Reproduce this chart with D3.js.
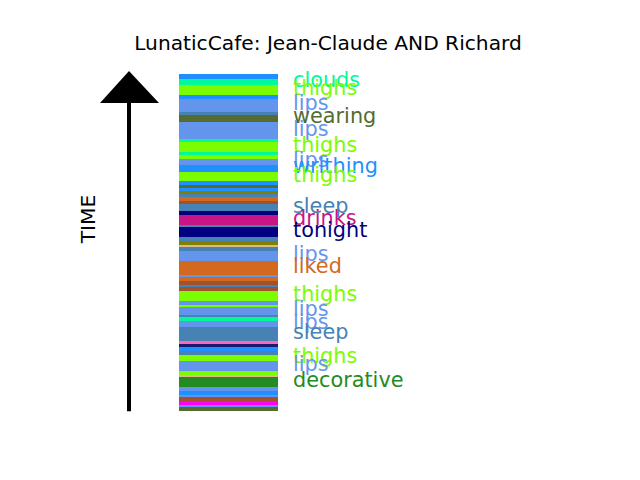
<!DOCTYPE html>
<html>
<head>
<meta charset="utf-8">
<script src="https://cdn.jsdelivr.net/npm/d3@7"></script>
<style>
  html, body { margin: 0; padding: 0; background: #fff; }
  svg { display: block; font-family: "DejaVu Sans", sans-serif; }
</style>
</head>
<body>
<svg id="chart" width="640" height="480"></svg>
<script>
// Title
const title = "LunaticCafe: Jean-Claude AND Richard";
const axisLabel = "TIME";

// Word occurrences in chronological order (earliest first = bottom of bar)
const words = [
  "wearing", "lips", "w_magenta", "w_sienna", "lips", "writhing", "lips", "decorative",
  "w_burlywood", "thighs", "lips", "thighs", "sleep", "writhing", "w_midnight", "w_hotpink",
  "sleep", "lips", "clouds", "sleep", "lips", "thighs", "lips", "thighs",
  "w_sienna", "sleep", "w_sienna", "liked", "lips", "liked", "lips", "sleep",
  "w_burlywood", "w_olive", "sleep", "tonight", "sleep", "drinks", "tonight", "sleep",
  "w_sienna", "liked", "sleep", "w_olive", "writhing", "wearing", "writhing", "thighs",
  "writhing", "lips", "thighs", "clouds", "thighs", "clouds", "lips", "wearing",
  "sleep", "lips", "writhing", "thighs", "clouds", "writhing"
];
// Duration of each occurrence (time units)
const durations = [
  5, 4, 6, 5, 4, 6, 5, 15,
  4, 6, 15, 9, 5, 6, 5, 4,
  21, 9, 6, 4, 11, 4, 5, 15,
  6, 4, 5, 6, 4, 20, 15, 6,
  4, 5, 6, 15, 4, 15, 5, 11,
  4, 6, 5, 4, 5, 5, 5, 14,
  11, 9, 6, 4, 15, 4, 26, 11,
  4, 20, 6, 15, 9, 7
];
// Colour of each word
const colorWords = ["lips", "thighs", "clouds", "writhing", "wearing", "sleep", "liked", "drinks",
                    "tonight", "decorative", "w_olive", "w_sienna", "w_burlywood", "w_hotpink",
                    "w_midnight", "w_magenta"];
const colorValues = ["cornflowerblue", "lawngreen", "mediumspringgreen", "dodgerblue", "darkolivegreen",
                     "steelblue", "chocolate", "mediumvioletred", "navy", "forestgreen", "olive",
                     "sienna", "burlywood", "hotpink", "midnightblue", "magenta"];
// Occurrences at least this long get a label
const labelThreshold = 8;

const color = d3.scaleOrdinal().domain(colorWords).range(colorValues);

// Build stripes
let acc = 0;
const stripes = words.map((w, i) => {
  const s = { word: w, start: acc, end: acc + durations[i], dur: durations[i] };
  acc += durations[i];
  return s;
});
const total = acc;

const svg = d3.select("#chart");

const y = d3.scaleLinear().domain([0, total]).range([410.67, 74]);
const x = d3.scaleLinear().domain([0, 1]).range([179, 278]);

// Title
svg.append("text")
  .attr("x", 328).attr("y", 50)
  .attr("text-anchor", "middle")
  .attr("font-size", 20.2)
  .attr("fill", "#000")
  .text(title);

// Time arrow
svg.append("line")
  .attr("x1", 129).attr("x2", 129)
  .attr("y1", y(0) + 0.5).attr("y2", 100)
  .attr("stroke", "#000").attr("stroke-width", 4);
svg.append("path")
  .attr("d", "M129,71 L100,103 L159,103 Z")
  .attr("fill", "#000");

svg.append("text")
  .attr("transform", "translate(88,219) rotate(-90)")
  .attr("text-anchor", "middle")
  .attr("dy", 7.3)
  .attr("font-size", 20.2)
  .attr("fill", "#000")
  .text(axisLabel);

// Stripes
svg.append("g").selectAll("rect")
  .data(stripes)
  .join("rect")
  .attr("x", x(0))
  .attr("width", x(1) - x(0))
  .attr("y", d => y(d.end))
  .attr("height", d => y(d.start) - y(d.end))
  .attr("fill", d => color(d.word))
  .attr("shape-rendering", "crispEdges");

// Labels (drawn from the top down, so lower labels overlap upper ones as in the reference)
svg.append("g").selectAll("text")
  .data(stripes.filter(d => d.dur >= labelThreshold).reverse())
  .join("text")
  .attr("x", x(1) + 15)
  .attr("y", d => y((d.start + d.end) / 2) + 5)
  .attr("font-size", 20.8)
  .attr("fill", d => color(d.word))
  .text(d => d.word);
</script>
</body>
</html>
